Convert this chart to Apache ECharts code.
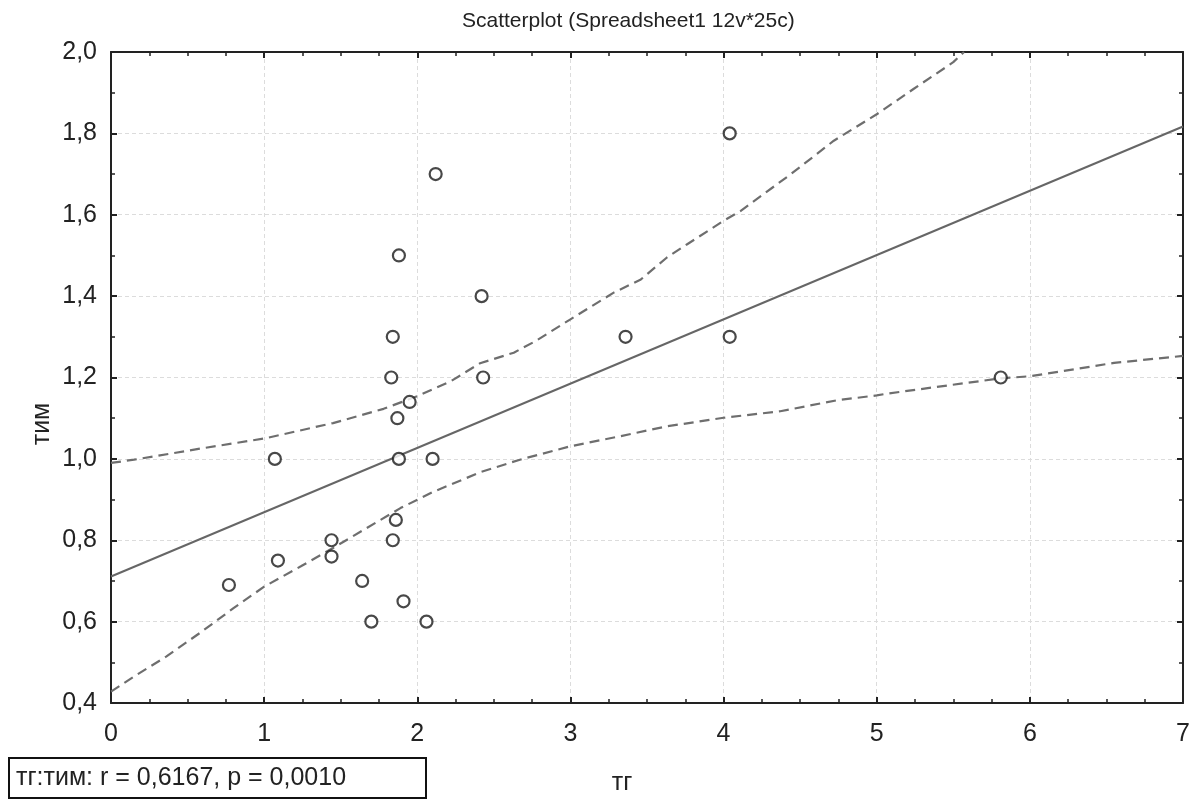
<!DOCTYPE html>
<html>
<head>
<meta charset="utf-8">
<script src="https://cdn.jsdelivr.net/npm/echarts@6/dist/echarts.min.js"></script>
<style>
  html, body { margin: 0; padding: 0; background: #fff; }
  #chart { width: 1196px; height: 800px; }
</style>
</head>
<body>
<div id="chart"></div>
<script>
// Observations: тг (x) vs тим (y), 25 cases
const tgValues = [0.77, 1.07, 1.09, 1.44, 1.44, 1.64, 1.70, 1.84, 1.86, 1.88, 1.91, 2.06, 2.10,
                  2.12, 1.88, 2.42, 1.84, 1.83, 2.43, 1.95, 1.87, 3.36, 4.04, 4.04, 5.81];
const timValues = [0.69, 1.00, 0.75, 0.80, 0.76, 0.70, 0.60, 0.80, 0.85, 1.00, 0.65, 0.60, 1.00,
                   1.70, 1.50, 1.40, 1.30, 1.20, 1.20, 1.14, 1.10, 1.30, 1.80, 1.30, 1.20];

// Fitted regression line (end points)
const fitX = [0, 7];
const fitY = [0.711, 1.817];

// 95% confidence band, upper curve
const upperX = [0, 0.15, 0.58, 1.0, 1.45, 1.78, 2.0, 2.22, 2.41, 2.63, 2.77, 3.0, 3.28, 3.46,
                3.63, 3.76, 4.0, 4.11, 4.44, 4.72, 5.0, 5.24, 5.5, 5.57];
const upperY = [0.99, 0.998, 1.025, 1.05, 1.088, 1.123, 1.154, 1.191, 1.235, 1.261, 1.289, 1.343,
                1.408, 1.441, 1.495, 1.527, 1.585, 1.609, 1.70, 1.782, 1.847, 1.909, 1.975, 2.0];

// 95% confidence band, lower curve
const lowerX = [0, 0.15, 0.36, 0.58, 0.8, 1.0, 1.24, 1.45, 1.67, 1.89, 2.11, 2.22, 2.41, 2.67,
                3.0, 3.33, 3.63, 4.0, 4.37, 4.74, 5.0, 5.06, 5.81, 6.0, 6.22, 6.55, 7.0];
const lowerY = [0.428, 0.465, 0.514, 0.572, 0.633, 0.686, 0.736, 0.781, 0.83, 0.879, 0.92, 0.937,
                0.967, 0.998, 1.031, 1.056, 1.080, 1.101, 1.117, 1.144, 1.156, 1.16, 1.198, 1.203,
                1.216, 1.236, 1.253];

const titleText = 'Scatterplot (Spreadsheet1 12v*25c)';
const xName = 'тг';
const yName = 'тим';
const statText = 'тг:тим: r = 0,6167, p = 0,0010';

const FONT = '"Liberation Sans", Arial, sans-serif';
const zip = (xs, ys) => xs.map((x, i) => [x, ys[i]]);
const comma1 = v => v.toFixed(1).replace('.', ',');

const axisLine = { show: true, onZero: false, lineStyle: { color: '#222', width: 2 } };
const tick = { show: true, inside: true, length: 6, lineStyle: { color: '#222', width: 2 } };
const minor = n => ({ show: true, splitNumber: n, length: 4, lineStyle: { color: '#222', width: 1.5 } });
const grid = { show: true, lineStyle: { color: '#dcdcdc', type: [4, 3], width: 1 } };

const chart = echarts.init(document.getElementById('chart'), null, { renderer: 'canvas' });
chart.setOption({
  backgroundColor: '#fff',
  animation: false,
  textStyle: { fontFamily: FONT },
  title: {
    text: titleText,
    left: 457, top: 6,
    textStyle: { fontFamily: FONT, fontSize: 21, fontWeight: 'normal', color: '#222' }
  },
  grid: { left: 111, right: 13, top: 52, bottom: 97 },
  xAxis: [
    {
      type: 'value', position: 'bottom', min: 0, max: 7, interval: 1,
      axisLine, axisTick: tick, minorTick: minor(4),
      splitLine: grid,
      axisLabel: { fontSize: 25, color: '#222', margin: 19, fontFamily: FONT }
    },
    {
      type: 'value', position: 'top', min: 0, max: 7, interval: 1,
      axisLine, axisTick: tick, minorTick: minor(4),
      splitLine: { show: false }, axisLabel: { show: false }
    }
  ],
  yAxis: [
    {
      type: 'value', position: 'left', min: 0.4, max: 2.0, interval: 0.2,
      axisLine, axisTick: tick, minorTick: minor(2),
      splitLine: grid,
      axisLabel: { fontSize: 25, color: '#222', margin: 14, fontFamily: FONT, formatter: comma1 }
    },
    {
      type: 'value', position: 'right', min: 0.4, max: 2.0, interval: 0.2,
      axisLine, axisTick: tick, minorTick: minor(2),
      splitLine: { show: false }, axisLabel: { show: false }
    }
  ],
  series: [
    {
      name: 'fit', type: 'line', data: zip(fitX, fitY), showSymbol: false,
      lineStyle: { color: '#666', width: 2 }, z: 3
    },
    {
      name: 'upper', type: 'line', data: zip(upperX, upperY), showSymbol: false,
      lineStyle: { color: '#6e6e6e', width: 2.2, type: [10, 6] }, z: 3
    },
    {
      name: 'lower', type: 'line', data: zip(lowerX, lowerY), showSymbol: false,
      lineStyle: { color: '#6e6e6e', width: 2.2, type: [10, 6] }, z: 3
    },
    {
      name: 'points', type: 'scatter', data: zip(tgValues, timValues),
      symbol: 'circle', symbolSize: 12,
      itemStyle: { color: '#fff', borderColor: '#1a1a1a', borderWidth: 2.2 }, z: 5
    }
  ],
  graphic: [
    {
      type: 'text', x: 622, y: 783,
      style: { text: xName, fontSize: 25, fontFamily: FONT, fill: '#222',
               align: 'center', verticalAlign: 'middle' }
    },
    {
      type: 'text', x: 42, y: 424, rotation: Math.PI / 2,
      style: { text: yName, fontSize: 25, fontFamily: FONT, fill: '#222',
               align: 'center', verticalAlign: 'middle' }
    },
    {
      type: 'rect', shape: { x: 9, y: 758, width: 417, height: 40 },
      style: { fill: '#fff', stroke: '#111', lineWidth: 2 }
    },
    {
      type: 'text', x: 16, y: 778,
      style: { text: statText, fontSize: 25, fontFamily: FONT, fill: '#222', verticalAlign: 'middle' }
    }
  ]
});
</script>
</body>
</html>
